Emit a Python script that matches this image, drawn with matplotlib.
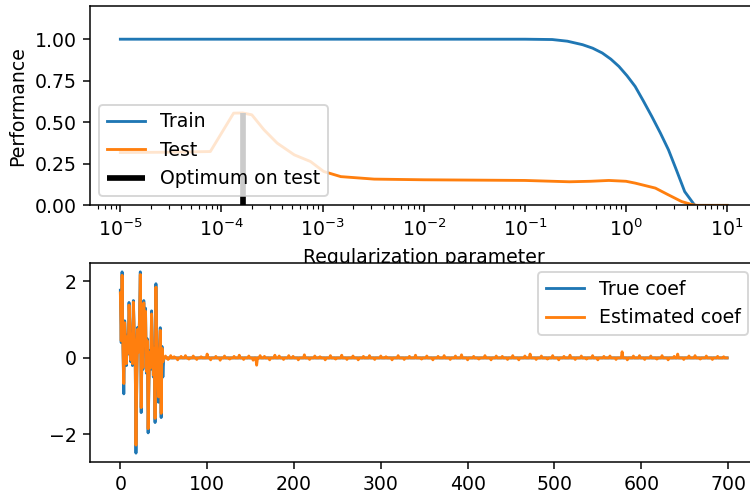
import numpy as np
import matplotlib.pyplot as plt

# Top panel: performance vs regularization (log10 of alpha)
train_log_alpha = [-5.0, -3.0, -1.0, -0.73, -0.58, -0.43, -0.33, -0.235, -0.15, -0.07, 0.01,
                   0.09, 0.17, 0.255, 0.34, 0.42, 0.50, 0.58, 0.68, 1.0]
train_score = [1.0, 1.0, 1.0, 0.998, 0.988, 0.967, 0.946, 0.917, 0.880, 0.836, 0.780,
               0.716, 0.630, 0.535, 0.435, 0.334, 0.210, 0.083, 0.0, 0.0]

test_log_alpha = [-5.0, -4.5, -4.11, -3.88, -3.79, -3.70, -3.58, -3.45, -3.28, -3.12, -2.99,
                  -2.82, -2.49, -2.0, -1.5, -1.0, -0.56, -0.35, -0.17, 0.0, 0.09, 0.29,
                  0.42, 0.55, 0.65, 0.7, 1.0]
test_score = [0.318, 0.320, 0.324, 0.555, 0.556, 0.545, 0.455, 0.375, 0.304, 0.264, 0.204,
              0.173, 0.158, 0.154, 0.152, 0.150, 0.142, 0.145, 0.150, 0.145, 0.134, 0.104,
              0.063, 0.023, 0.005, 0.0, 0.0]
optim_log_alpha = -3.79

# Bottom panel: coefficients (700 features, first 50 non-zero)
n_features = 700
true_head = [1.77, 0.40, 2.25, 0.30, -0.94, 0.97, 0.50, -0.20, 0.60, 0.10,
             1.45, 0.90, -0.10, 0.30, -0.20, 1.50, 0.70, 0.30, -2.49, -0.50,
             0.80, 0.20, 1.00, 2.25, -1.43, 0.40, -0.30, 1.50, 0.60, 1.30,
             -0.40, 0.50, -1.96, -0.60, 0.20, -0.30, 1.23, 0.40, -0.50, 0.30,
             -1.69, 1.94, 0.10, -0.40, -1.16, 0.20, 0.79, -1.56, 0.30, -0.50]
est_head = [1.70, 0.45, 2.16, 0.25, -0.67, 0.92, 0.45, -0.15, 0.55, 0.12,
            1.38, 0.85, -0.05, 0.25, -0.15, 1.46, 0.65, 0.25, -2.28, -0.45,
            0.75, 0.15, 0.95, 2.18, -1.30, 0.35, -0.25, 1.44, 0.55, 1.22,
            -0.35, 0.45, -1.85, -0.55, 0.15, -0.25, 1.15, 0.35, -0.45, 0.25,
            -1.58, 1.85, 0.05, -0.35, -1.02, 0.15, 0.72, -1.45, 0.25, -0.10]
# visible noise in the estimated tail: index -> value
est_tail = {52: 0.05, 55: -0.04, 58: 0.06, 62: 0.03, 66: -0.05, 70: 0.04, 75: 0.06,
            79: -0.03, 84: 0.05, 88: -0.04, 93: 0.03, 100: 0.10, 104: -0.05, 110: 0.04,
            115: -0.06, 120: 0.05, 126: -0.03, 131: 0.04, 137: 0.07, 142: -0.04,
            148: 0.05, 153: -0.06, 157: -0.19, 161: 0.06, 166: 0.04, 172: -0.05,
            178: 0.07, 183: 0.05, 188: -0.04, 194: 0.06, 199: 0.04, 205: -0.05,
            212: 0.08, 218: -0.04, 224: 0.05, 230: 0.03, 236: -0.05, 242: 0.06,
            248: -0.03, 255: 0.07, 261: -0.04, 268: 0.05, 274: -0.05, 280: 0.04,
            287: 0.06, 293: -0.04, 300: 0.05, 306: 0.03, 313: -0.05, 320: 0.06,
            327: -0.04, 333: 0.04, 340: 0.07, 347: -0.03, 353: 0.05, 360: -0.05,
            366: 0.04, 373: 0.06, 380: -0.04, 386: 0.05, 393: 0.08, 400: -0.05,
            407: 0.04, 413: -0.03, 420: 0.06, 427: -0.05, 433: 0.05, 440: 0.04,
            446: -0.04, 452: 0.06, 459: -0.05, 466: 0.05, 472: 0.10, 479: -0.04,
            485: 0.05, 492: -0.03, 498: 0.06, 505: -0.05, 511: 0.04, 518: 0.07,
            524: -0.04, 531: 0.05, 537: -0.03, 544: 0.06, 550: -0.05, 557: 0.04,
            564: 0.05, 571: -0.04, 578: 0.16, 584: -0.05, 591: 0.05, 598: 0.06,
            604: -0.04, 611: 0.05, 618: -0.03, 624: 0.06, 631: -0.05, 638: 0.04,
            642: 0.10, 649: -0.04, 655: 0.05, 662: 0.06, 668: -0.03, 675: 0.05,
            682: -0.04, 688: 0.04, 695: 0.03}

coef = np.zeros(n_features)
coef[:len(true_head)] = true_head
coef_ = np.zeros(n_features)
coef_[:len(est_head)] = est_head
for i, v in est_tail.items():
    coef_[i] = v

alphas_train = 10.0 ** np.array(train_log_alpha)
alphas_test = 10.0 ** np.array(test_log_alpha)
alpha_optim = 10.0 ** optim_log_alpha

dpi = 136
fig = plt.figure(figsize=(750 / dpi, 497 / dpi), dpi=dpi)

plt.subplot(2, 1, 1)
plt.semilogx(alphas_train, train_score, label="Train")
plt.semilogx(alphas_test, test_score, label="Test")
plt.vlines(alpha_optim, -0.05, max(test_score), color="k", linewidth=3, label="Optimum on test")
plt.legend(loc="lower left")
plt.ylim([0, 1.2])
plt.xlabel("Regularization parameter")
plt.ylabel("Performance")

plt.subplot(2, 1, 2)
plt.plot(coef, label="True coef")
plt.plot(coef_, label="Estimated coef")
plt.legend()

# the right edge of the axes runs slightly past the image, as in the original
plt.subplots_adjust(left=0.12, right=1.01, top=0.988, bottom=0.07, hspace=0.288)
plt.savefig("out.png", dpi=dpi)
